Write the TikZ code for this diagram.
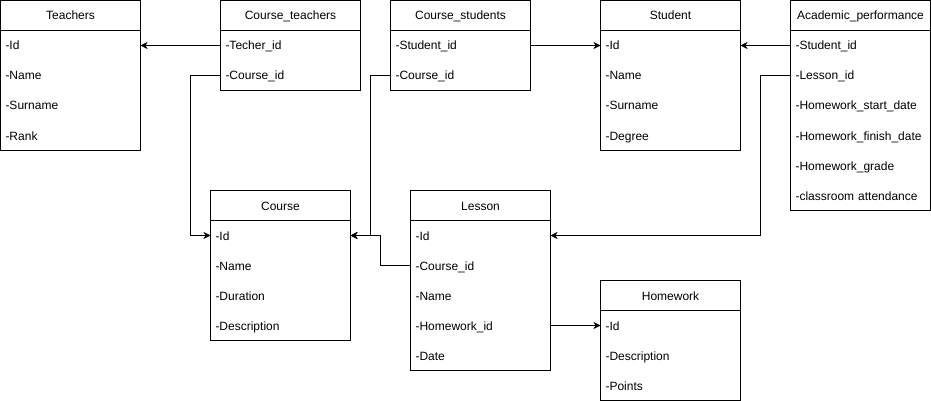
\documentclass[tikz,border=0pt]{standalone}
\usepackage{fontspec}
\setmainfont{Liberation Sans}
\usepackage{tikz}
\usetikzlibrary{positioning, arrows.meta}
\tikzstyle{header} = [rectangle, minimum width=140pt, minimum height=30pt, inner sep=0pt, outer sep=0pt, text height=9pt, text depth=0pt, text centered, draw=black, line width=1pt]
\tikzstyle{field} = [rectangle, minimum height=30pt, text width=130pt, inner xsep=5pt, inner ysep=0pt, outer sep=0pt, text height=9pt, text depth=0pt, align=left]
\tikzstyle{box} = [draw=black, line width=1pt]
\tikzstyle{arrow} = [line width=1pt, -{Stealth[length=7pt, width=7pt, inset=2pt]}]

\begin{document}
\begin{tikzpicture}[x=1pt, y=-1pt, node distance=0pt, font=\fontsize{12}{14}\selectfont]
        \useasboundingbox (0,0) rectangle (931,401);

        % Teachers
        \node[header] at (70.5,15.5)   (teachers) {Teachers};
        \node[field, below=of teachers] (t1) {-Id};
        \node[field, below=of t1]       (t2) {-Name};
        \node[field, below=of t2]       (t3) {-Surname};
        \node[field, below=of t3]       (t4) {-Rank};
        \draw[box] (t1.north west) rectangle (t4.south east);

        % Course_teachers
        \node[header] at (290.5,15.5)  (ct) {Course\_teachers};
        \node[field, below=of ct]       (ct1) {-Techer\_id};
        \node[field, below=of ct1]      (ct2) {-Course\_id};
        \draw[box] (ct1.north west) rectangle (ct2.south east);

        % Course_students
        \node[header] at (460.5,15.5)  (cs) {Course\_students};
        \node[field, below=of cs]       (cs1) {-Student\_id};
        \node[field, below=of cs1]      (cs2) {-Course\_id};
        \draw[box] (cs1.north west) rectangle (cs2.south east);

        % Student
        \node[header] at (670.5,15.5)  (student) {Student};
        \node[field, below=of student]  (s1) {-Id};
        \node[field, below=of s1]       (s2) {-Name};
        \node[field, below=of s2]       (s3) {-Surname};
        \node[field, below=of s3]       (s4) {-Degree};
        \draw[box] (s1.north west) rectangle (s4.south east);

        % Academic_performance
        \node[header] at (860.5,15.5)  (ap) {Academic\_performance};
        \node[field, below=of ap]       (ap1) {-Student\_id};
        \node[field, below=of ap1]      (ap2) {-Lesson\_id};
        \node[field, below=of ap2]      (ap3) {-Homework\_start\_date};
        \node[field, below=of ap3]      (ap4) {-Homework\_finish\_date};
        \node[field, below=of ap4]      (ap5) {-Homework\_grade};
        \node[field, below=of ap5]      (ap6) {-classroom attendance};
        \draw[box] (ap1.north west) rectangle (ap6.south east);

        % Course
        \node[header] at (280.5,205.5) (course) {Course};
        \node[field, below=of course]   (c1) {-Id};
        \node[field, below=of c1]       (c2) {-Name};
        \node[field, below=of c2]       (c3) {-Duration};
        \node[field, below=of c3]       (c4) {-Description};
        \draw[box] (c1.north west) rectangle (c4.south east);

        % Lesson
        \node[header] at (480.5,205.5) (lesson) {Lesson};
        \node[field, below=of lesson]   (l1) {-Id};
        \node[field, below=of l1]       (l2) {-Course\_id};
        \node[field, below=of l2]       (l3) {-Name};
        \node[field, below=of l3]       (l4) {-Homework\_id};
        \node[field, below=of l4]       (l5) {-Date};
        \draw[box] (l1.north west) rectangle (l5.south east);

        % Homework
        \node[header] at (670.5,295.5) (homework) {Homework};
        \node[field, below=of homework] (h1) {-Id};
        \node[field, below=of h1]       (h2) {-Description};
        \node[field, below=of h2]       (h3) {-Points};
        \draw[box] (h1.north west) rectangle (h3.south east);

        % links
        \draw[arrow] (ct1.west) -- (t1.east);
        \draw[arrow] (ct2.west) -- ++(-30,0) |- (c1.west);
        \draw[arrow] (cs1.east) -- (s1.west);
        \draw[arrow] (cs2.west) -- ++(-20,0) |- (c1.east);
        \draw[arrow] (l2.west)  -- ++(-30,0) |- (c1.east);
        \draw[arrow] (ap1.west) -- (s1.east);
        \draw[arrow] (ap2.west) -- ++(-30,0) |- (l1.east);
        \draw[arrow] (l4.east)  -- (h1.west);
    \end{tikzpicture}
\end{document}
